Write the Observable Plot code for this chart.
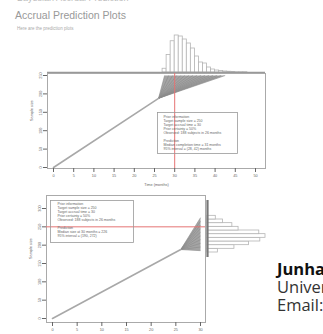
<!DOCTYPE html>
<html>
<head>
<meta charset="utf-8">
<script src="https://cdn.jsdelivr.net/npm/d3@7"></script>
<script src="https://cdn.jsdelivr.net/npm/@observablehq/plot@0.6"></script>
<style>
html, body { margin: 0; padding: 0; background: #fff; }
body { width: 323px; height: 334px; overflow: hidden; position: relative; font-family: "Liberation Sans", Arial, sans-serif; }
#stage > svg { position: absolute; left: 0; top: 0; }
</style>
</head>
<body>
<div id="stage"></div>
<script>
// ---------- data ----------
const timeTicks = [0, 5, 10, 15, 20, 25, 30, 35, 40, 45, 50];
const sizeTicks = [0, 50, 100, 150, 200, 250];
const observedTime = [0, 26];
const observedSize = [0, 188];
const targetSize = 250;
const targetTime = 30;
// predicted time to reach the target (histogram above top panel)
const completionBinStart = [27, 28, 29, 30, 31, 32, 33, 34, 35, 36, 37, 38, 39, 40, 41, 42, 43, 44, 45, 46, 47];
const completionCounts   = [15, 70, 125, 148, 144, 132, 116, 96, 64, 40, 36, 20, 12, 8, 6, 4, 3, 2, 1, 1, 1];
// bottom panel: predicted sample size at target time (histogram at right)
const predTimeTicks = [0, 5, 10, 15, 20, 25, 30];
const predSizeTicks = [0, 50, 100, 150, 200, 250, 300];
const predBinStart = [180, 190, 200, 210, 220, 230, 240, 250, 260, 270];
const predCounts   = [10, 26, 40, 51, 56, 50, 30, 24, 15, 8];

const topLegend = [
  "Prior information",
  "Target sample size = 250",
  "Target accrual time = 30",
  "Prior certainty = 50%",
  "Observed: 188 subjects in 26 months",
  "",
  "Prediction",
  "Median completion time = 31 months",
  "95% interval = (28, 42) months"
];
const bottomLegend = [
  "Prior information",
  "Target sample size = 250",
  "Target accrual time = 30",
  "Prior certainty = 50%",
  "Observed: 188 subjects in 26 months",
  "",
  "Prediction",
  "Median size at 30 months = 226",
  "95% interval = (190, 272)"
];

// ---------- layout ----------
const W = 323, H = 334;
const stage = document.getElementById("stage");
const baseStyle = {background: "transparent", overflow: "visible", fontFamily: "Liberation Sans, Arial, sans-serif"};
const t0 = observedTime[observedTime.length - 1];
const n0 = observedSize[observedSize.length - 1];
const axisColor = "#666";
const tickFont = 3.8;
const fanFill = "#a4a4a4";

// top histogram
stage.append(Plot.plot({
  width: W, height: H, style: baseStyle,
  marginLeft: 47, marginRight: 58, marginTop: 0, marginBottom: H - 72,
  x: {domain: [0, 50], range: [53, 255], axis: null},
  y: {domain: [0, 148], range: [72, 35], axis: null},
  marks: [
    Plot.rectY(completionBinStart, {x1: d => d, x2: d => d + 1, y1: 0, y2: (d, i) => completionCounts[i], fill: "white", stroke: "#b4b4b4", strokeWidth: 0.8}),
    Plot.ruleY([0], {stroke: "#999", strokeWidth: 1.6})
  ]
}));

// top panel: fan of predicted paths from the current point to the target
const fanTop = completionBinStart.filter((d, i) => completionCounts[i] >= 4).map(d => d + 0.5);
const fanTopPoly = [[t0, n0], [fanTop[0], targetSize], [fanTop[fanTop.length - 1], targetSize]];
stage.append(Plot.plot({
  width: W, height: H, style: baseStyle,
  marginLeft: 47, marginRight: W - 265, marginTop: 73, marginBottom: H - 168,
  x: {domain: [0, 50], range: [53, 255]},
  y: {domain: [0, 250], range: [167, 75]},
  marks: [
    Plot.frame({stroke: "#aaa", strokeWidth: 1}),
    Plot.line(fanTopPoly, {x: d => d[0], y: d => d[1], fill: fanFill, stroke: "none"}),
    Plot.link(fanTop, {x1: t0, y1: n0, x2: d => d, y2: targetSize, stroke: "#8a8a8a", strokeWidth: 0.6}),
    Plot.line(observedTime.map((t, i) => [t, observedSize[i]]), {x: d => d[0], y: d => d[1], stroke: "#a8a8a8", strokeWidth: 1.6}),
    Plot.ruleX([targetTime], {stroke: "#e57373", strokeWidth: 1}),
    Plot.axisX(timeTicks, {anchor: "bottom", tickSize: 4, tickPadding: 2, fontSize: tickFont, color: axisColor, label: null}),
    Plot.axisY(sizeTicks, {anchor: "left", tickSize: 4, tickPadding: 2, tickRotate: -90, fontSize: tickFont, color: axisColor, label: null}),
    Plot.text(["Time (months)"], {frameAnchor: "bottom", dy: 17, fontSize: 3.8, fill: "#666"}),
    Plot.text(["Sample size"], {frameAnchor: "left", dx: -16, rotate: -90, fontSize: 3.8, fill: "#666"})
  ]
}));

// top legend
stage.append(Plot.plot({
  width: W, height: H, style: baseStyle,
  marginLeft: 157, marginRight: W - 237, marginTop: 112, marginBottom: H - 153,
  marks: [
    Plot.frame({stroke: "#999", strokeWidth: 0.8}),
    Plot.text([topLegend.join("\n")], {frameAnchor: "top-left", dx: 6, dy: 3, lineAnchor: "top", fontSize: 3.5, lineHeight: 1.13, fill: "#666"})
  ]
}));

// bottom panel
const predCenters = predBinStart.map(d => d + 5);
const fanBottomPoly = [[t0, n0], [targetTime, predCenters[0]], [targetTime, predCenters[predCenters.length - 1]]];
stage.append(Plot.plot({
  width: W, height: H, style: baseStyle,
  marginLeft: 46, marginRight: W - 205, marginTop: 195, marginBottom: H - 322,
  x: {domain: [0, 30], range: [52, 200]},
  y: {domain: [0, 300], range: [318, 208]},
  marks: [
    Plot.frame({stroke: "#aaa", strokeWidth: 1}),
    Plot.line(fanBottomPoly, {x: d => d[0], y: d => d[1], fill: fanFill, stroke: "none"}),
    Plot.link(predCenters, {x1: t0, y1: n0, x2: targetTime, y2: d => d, stroke: "#8a8a8a", strokeWidth: 0.6}),
    Plot.line(observedTime.map((t, i) => [t, observedSize[i]]), {x: d => d[0], y: d => d[1], stroke: "#a8a8a8", strokeWidth: 1.6}),
    Plot.ruleY([targetSize], {stroke: "#e57373", strokeWidth: 1}),
    Plot.axisX(predTimeTicks, {anchor: "bottom", tickSize: 4, tickPadding: 2, fontSize: tickFont, color: axisColor, label: null}),
    Plot.axisY(predSizeTicks, {anchor: "left", tickSize: 4, tickPadding: 2, tickRotate: -90, fontSize: tickFont, color: axisColor, label: null}),
    Plot.text(["Time (months)"], {frameAnchor: "bottom", dy: 17, fontSize: 3.8, fill: "#666"}),
    Plot.text(["Sample size"], {frameAnchor: "left", dx: -16, rotate: -90, fontSize: 3.8, fill: "#666"})
  ]
}));

// right histogram
stage.append(Plot.plot({
  width: W, height: H, style: baseStyle,
  marginLeft: 206, marginRight: W - 268, marginTop: 200, marginBottom: H - 257,
  x: {domain: [0, 56], range: [207, 265], axis: null},
  y: {domain: [0, 300], range: [318, 208], axis: null},
  marks: [
    Plot.rectX(predBinStart, {y1: d => d, y2: d => d + 10, x1: 0, x2: (d, i) => predCounts[i], fill: "white", stroke: "#b4b4b4", strokeWidth: 0.8}),
    Plot.ruleX([0], {stroke: "#777", strokeWidth: 2.2})
  ]
}));

// bottom legend
stage.append(Plot.plot({
  width: W, height: H, style: baseStyle,
  marginLeft: 50, marginRight: W - 133, marginTop: 200, marginBottom: H - 242,
  marks: [
    Plot.frame({stroke: "#999", strokeWidth: 0.8}),
    Plot.text([bottomLegend.join("\n")], {frameAnchor: "top-left", dx: 7, dy: 2, lineAnchor: "top", fontSize: 3.5, lineHeight: 1.13, fill: "#666"})
  ]
}));

// page texts
const txt = d3.create("svg").attr("width", W).attr("height", H);
txt.append("text").attr("x", 17).attr("y", 0.5).attr("font-size", 9).attr("fill", "#bbb")
  .attr("font-family", "Liberation Sans, Arial, sans-serif").text("Bayesian Accrual Prediction");
txt.append("text").attr("x", 15).attr("y", 18.5).attr("font-size", 10.5).attr("fill", "#999")
  .attr("font-family", "Liberation Sans, Arial, sans-serif").text("Accrual Prediction Plots");
txt.append("text").attr("x", 17).attr("y", 29.5).attr("font-size", 4.5).attr("fill", "#aaa")
  .attr("font-family", "Liberation Sans, Arial, sans-serif").text("Here are the prediction plots");
const side = [
  {t: "Junhao Liu", y: 275, w: "bold", c: "#111"},
  {t: "University of Kansas Medical Center", y: 293, w: "normal", c: "#333"},
  {t: "Email: jliu@kumc.edu", y: 310.5, w: "normal", c: "#333"}
];
side.forEach(s => txt.append("text").attr("x", 277).attr("y", s.y).attr("font-size", 16.5)
  .attr("font-weight", s.w).attr("fill", s.c).attr("font-family", "'Open Sans', sans-serif").text(s.t));
stage.append(txt.node());
</script>
</body>
</html>
